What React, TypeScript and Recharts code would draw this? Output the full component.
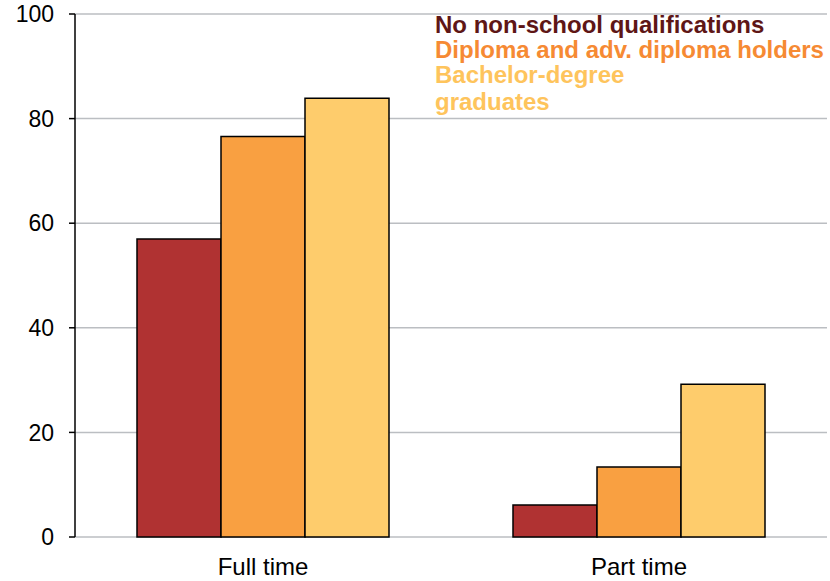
import { BarChart, Bar, XAxis, YAxis, CartesianGrid, Legend } from "recharts"

const categories = ["Full time", "Part time"]
const noQualification = [57.0, 6.1]
const diplomaHolders = [76.6, 13.4]
const bachelorGraduates = [83.9, 29.2]
const yTicks = [0, 20, 40, 60, 80, 100]
const edgeTicks = [0, 1, 2]

const seriesNames = ["No non-school qualifications", "Diploma and adv. diploma holders", "Bachelor-degree\ngraduates"]
const barColors = ["#b03232", "#f9a041", "#fecc6c"]
const legendColors = ["#5e1616", "#f68a33", "#fec45c"]

const chartData = categories.map((name, i) => ({
  name,
  none: noQualification[i],
  diploma: diplomaHolders[i],
  bachelor: bachelorGraduates[i],
}))

const font = "'Liberation Sans', Arial, sans-serif"

const renderLegend = () => (
  <div style={{ fontFamily: font, fontWeight: 700, fontSize: 24, lineHeight: "25px", textAlign: "left" }}>
    {seriesNames.map((label, i) => (
      <div key={label} style={{ color: legendColors[i], whiteSpace: "pre-line", lineHeight: i === 2 ? "27px" : "25px", marginTop: i === 2 ? -1 : 0 }}>
        {label}
      </div>
    ))}
  </div>
)

export default function App() {
  return (
    <div style={{ position: "absolute", left: 0, top: 0, width: 830, height: 581, background: "#fff" }}>
      <BarChart
        width={830}
        height={581}
        data={chartData}
        margin={{ top: 14, right: 3, left: 0, bottom: 0 }}
        barCategoryGap={62}
        barGap={0}
        style={{ fontFamily: font }}
      >
        <CartesianGrid vertical={false} stroke="#bbbec2" strokeWidth={1.5} />
        <XAxis
          xAxisId="edge"
          type="number"
          domain={[0, 2]}
          ticks={edgeTicks}
          allowDataOverflow
          height={0}
          tick={false}
          tickSize={7}
          axisLine={{ stroke: "#000", strokeWidth: 1.5 }}
          tickLine={{ stroke: "#000", strokeWidth: 1.5 }}
        />
        <XAxis
          xAxisId="cat"
          dataKey="name"
          height={44}
          axisLine={false}
          tickLine={false}
          tickSize={0}
          tickMargin={21}
          tick={{ fill: "#000", fontSize: 24 }}
        />
        <YAxis
          domain={[0, 100]}
          ticks={yTicks}
          width={75}
          tickSize={6}
          tickMargin={15}
          tick={{ fill: "#000", fontSize: 23 }}
          axisLine={{ stroke: "#000", strokeWidth: 1.5 }}
          tickLine={{ stroke: "#000", strokeWidth: 1.5 }}
        />
        <Legend
          layout="horizontal"
          verticalAlign="middle"
          align="center"
          content={renderLegend}
          wrapperStyle={{ top: 12, left: 435, width: 395 }}
        />
        <Bar xAxisId="cat" dataKey="none" fill={barColors[0]} stroke="#000" strokeWidth={1.5} isAnimationActive={false} />
        <Bar xAxisId="cat" dataKey="diploma" fill={barColors[1]} stroke="#000" strokeWidth={1.5} isAnimationActive={false} />
        <Bar xAxisId="cat" dataKey="bachelor" fill={barColors[2]} stroke="#000" strokeWidth={1.5} isAnimationActive={false} />
      </BarChart>
    </div>
  )
}
